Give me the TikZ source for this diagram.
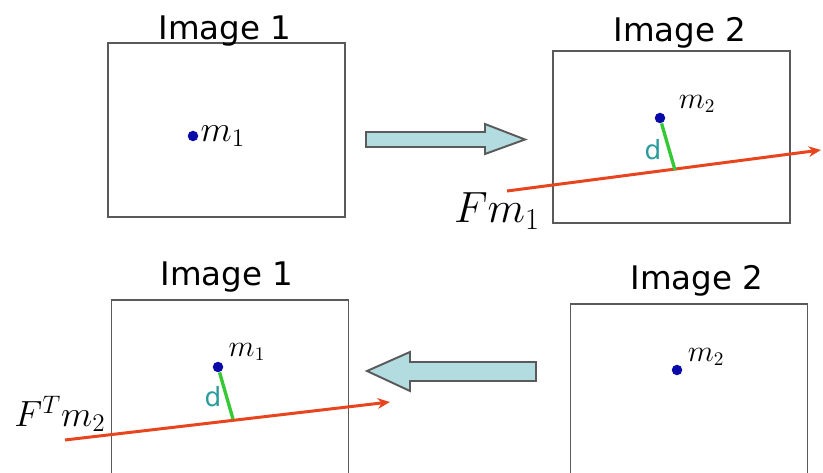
\documentclass[tikz,border=0pt]{standalone}
\usepackage{fontspec}
\setsansfont{DejaVu Sans}
\usepackage{tikz}
\usetikzlibrary{arrows.meta,positioning,calc}
\definecolor{framegray}{HTML}{5A5A5A}
\definecolor{ptblue}{HTML}{0A0AA8}
\definecolor{epired}{HTML}{E8441E}
\definecolor{distgreen}{HTML}{36C936}
\definecolor{distteal}{HTML}{2A9C9C}
\definecolor{arrowfill}{HTML}{B2DCE0}

\begin{document}
\begin{tikzpicture}[x=0.02cm, y=-0.02cm,
    imgbox/.style={rectangle, draw=framegray, line width=1.1pt,
                   minimum width=4.74cm, inner sep=0pt},
    title/.style={font=\sffamily\fontsize{18.5}{20}\selectfont, anchor=base},
    point/.style={circle, fill=ptblue, inner sep=0pt, minimum size=0.21cm},
    ptlabel/.style={font=\fontsize{16}{18}\selectfont, inner sep=1pt},
    dlabel/.style={font=\sffamily\fontsize{15}{17}\selectfont, text=distteal, inner sep=0pt},
    epiline/.style={-{Stealth[length=7pt,width=6pt]}, epired, line width=1.7pt},
    distline/.style={distgreen, line width=1.9pt},
    bigarrow/.style={draw=framegray, fill=arrowfill, line width=1.1pt, line join=miter}
  ]
  \clip (0,0) rectangle (823,473);
  \fill[white] (0,0) rectangle (823,473);

  %% Top row: m1 in image 1 maps to the line F m1 in image 2
  \node[imgbox, minimum height=3.48cm] (imgA) at (226.5,130) {};
  \node[title] (titleA) at (225,40) {Image 1};
  \node[point] (mA) at (193,136) {};
  \node[ptlabel, font=\fontsize{20}{22}\selectfont, right=0pt of mA] (mAlab) {$m_1$};

  \node[imgbox, minimum height=3.44cm] (imgB) at (671.5,137) {};
  \node[title] (titleB) at (680,42) {Image 2};
  \node[point] (mB) at (660,118) {};
  \node[ptlabel] (mBlab) at (697,104) {$m_2$};
  \coordinate (lineBstart) at (507,191);
  \coordinate (lineBend) at (821,150);
  \coordinate (footB) at (675,170);
  \draw[epiline] (lineBstart) -- (lineBend);
  \draw[distline] (mB) -- (footB);
  \node[dlabel] (dB) at (653,150) {d};
  \node[font=\fontsize{23}{25}\selectfont] (FmB) at (497,211) {$Fm_1$};

  \draw[bigarrow] (366,132) -- (485,132) -- (485,124) -- (525,139.5)
        -- (485,154) -- (485,147) -- (366,147) -- cycle;

  %% Bottom row: m2 in image 2 maps to the line F^T m2 in image 1
  \node[imgbox, minimum height=3.6cm] (imgC) at (230,390) {};
  \node[title] (titleC) at (227,286) {Image 1};
  \node[point] (mC) at (218,367) {};
  \node[ptlabel] (mClab) at (247,352) {$m_1$};
  \coordinate (lineCstart) at (65,440);
  \coordinate (lineCend) at (390,402);
  \coordinate (footC) at (233,419);
  \draw[epiline] (lineCstart) -- (lineCend);
  \draw[distline] (mC) -- (footC);
  \node[dlabel] (dC) at (213,397) {d};
  \node[font=\fontsize{22}{24}\selectfont] (FmC) at (60,414) {$F^{T}m_2$};

  \node[imgbox, minimum height=3.52cm] (imgD) at (689,392) {};
  \node[title] (titleD) at (697,290) {Image 2};
  \node[point] (mD) at (677,370) {};
  \node[ptlabel] (mDlab) at (706,357) {$m_2$};

  \draw[bigarrow] (536,362) -- (410,362) -- (410,352) -- (367,371)
        -- (410,391) -- (410,381) -- (536,381) -- cycle;

\end{tikzpicture}
\end{document}
